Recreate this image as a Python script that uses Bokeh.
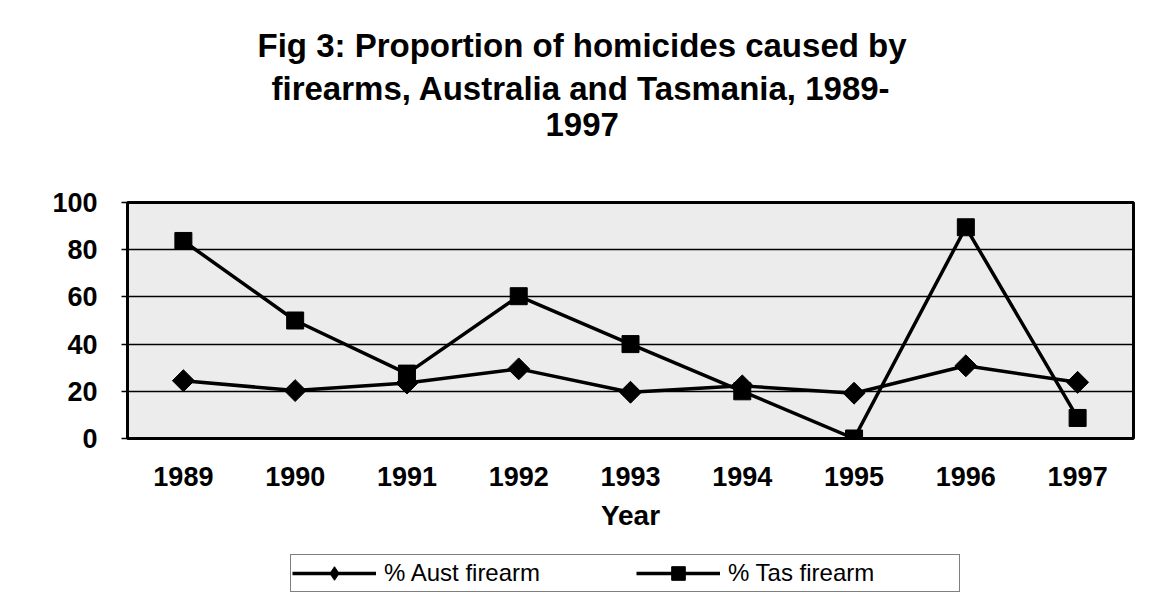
import math
from bokeh.plotting import figure
from bokeh.layouts import column
from bokeh.models import ColumnDataSource, FactorRange, Range1d, Title, Legend, LegendItem
from bokeh.embed import file_html
from bokeh.resources import INLINE

# ---- data ----
years = ["1989", "1990", "1991", "1992", "1993", "1994", "1995", "1996", "1997"]
aust_firearm = [24.5, 20.3, 23.5, 29.5, 19.6, 22.3, 19.2, 30.8, 23.8]
tas_firearm = [83.7, 50.0, 27.5, 60.3, 40.0, 20.0, 0.0, 89.5, 8.7]
y_ticks = [0, 20, 40, 60, 80, 100]
title_lines = [
    "Fig 3: Proportion of homicides caused by",
    "firearms, Australia and Tasmania, 1989-",
    "1997",
]
series_labels = ["% Aust firearm", "% Tas firearm"]
x_axis_label = "Year"

FONT = "Liberation Sans"

p = figure(
    width=1145, height=554,
    x_range=FactorRange(factors=years), y_range=Range1d(0, 100),
    output_backend="svg", toolbar_location=None,
    min_border_left=127, min_border_right=12,
    min_border_top=202, min_border_bottom=116,
)
p.background_fill_color = "#ececec"
p.border_fill_color = "white"
p.outline_line_color = "black"
p.outline_line_width = 3

# grid
p.xgrid.grid_line_color = None
p.ygrid.ticker = y_ticks
p.ygrid.grid_line_color = "black"
p.ygrid.grid_line_width = 1.3

# y axis
p.yaxis.ticker = y_ticks
p.yaxis.axis_line_color = None
p.yaxis.major_tick_line_color = "black"
p.yaxis.major_tick_line_width = 1.5
p.yaxis.major_tick_out = 6
p.yaxis.major_tick_in = 0
p.yaxis.minor_tick_line_color = None
p.yaxis.major_label_standoff = 24
p.yaxis.major_label_text_font = FONT
p.yaxis.major_label_text_font_size = "27px"
p.yaxis.major_label_text_font_style = "bold"
p.yaxis.major_label_text_color = "black"

# x axis
p.xaxis.axis_line_color = None
p.xaxis.major_tick_line_color = None
p.xaxis.minor_tick_line_color = None
p.xaxis.major_tick_out = 0
p.xaxis.major_label_standoff = 28
p.xaxis.major_label_text_font = FONT
p.xaxis.major_label_text_font_size = "27px"
p.xaxis.major_label_text_font_style = "bold"
p.xaxis.major_label_text_color = "black"
p.xaxis.axis_label = x_axis_label
p.xaxis.axis_label_text_font = FONT
p.xaxis.axis_label_text_font_size = "28px"
p.xaxis.axis_label_text_font_style = "bold"
p.xaxis.axis_label_text_color = "black"
p.xaxis.axis_label_standoff = 11

src = ColumnDataSource(dict(year=years, aust=aust_firearm, tas=tas_firearm))

line_style = dict(line_color="black", line_width=3.5)

p.line("year", "aust", source=src, **line_style)
p.scatter("year", "aust", source=src, marker="square", angle=math.pi / 4, size=15.5,
          fill_color="black", line_color="black")
p.line("year", "tas", source=src, **line_style)
p.scatter("year", "tas", source=src, marker="square", size=17,
          fill_color="black", line_color="black")

# ---- title: three lines stacked above the plot area ----
p.add_layout(Title(text=" ", text_font_size="2px", standoff=61), "above")  # gap above plot
title_offsets = [130, 144, 418]  # px from the left of the plot area (lines centred near x=582)
for txt, off in reversed(list(zip(title_lines, title_offsets))):
    p.add_layout(Title(
        text=txt, align="left", offset=off, standoff=4,
        text_font=FONT, text_font_size="33px", text_font_style="bold",
        text_color="black",
    ), "above")

# ---- legend strip under the chart (same series, same styles) ----
leg = figure(
    width=1145, height=40,
    x_range=FactorRange(factors=years), y_range=Range1d(1000, 1001),
    output_backend="svg", toolbar_location=None,
    x_axis_location=None, y_axis_location=None,
    min_border_left=0, min_border_right=0, min_border_top=0, min_border_bottom=0,
)
leg.grid.grid_line_color = None
leg.outline_line_color = None
leg.background_fill_color = "white"
leg.border_fill_color = "white"

la = leg.line("year", "aust", source=src, **line_style)
ma = leg.scatter("year", "aust", source=src, marker="diamond", size=16,
                 fill_color="black", line_color="black")
lt = leg.line("year", "tas", source=src, **line_style)
mt = leg.scatter("year", "tas", source=src, marker="square", size=17,
                 fill_color="black", line_color="black")

legend = Legend(
    items=[
        LegendItem(label=series_labels[0], renderers=[la, ma]),
        LegendItem(label=series_labels[1], renderers=[lt, mt]),
    ],
    location=(163, 2), orientation="horizontal",
    glyph_width=84, glyph_height=34, label_standoff=8, spacing=22,
    padding=1, label_width=230, label_height=24, margin=0,
    label_text_font=FONT, label_text_font_size="24px", label_text_color="black",
    border_line_color="black", border_line_width=1.5,
    background_fill_color="white", background_fill_alpha=1.0,
)
leg.add_layout(legend)

layout = column(p, leg, spacing=0)
open("out.html", "w").write(file_html(layout, INLINE))
